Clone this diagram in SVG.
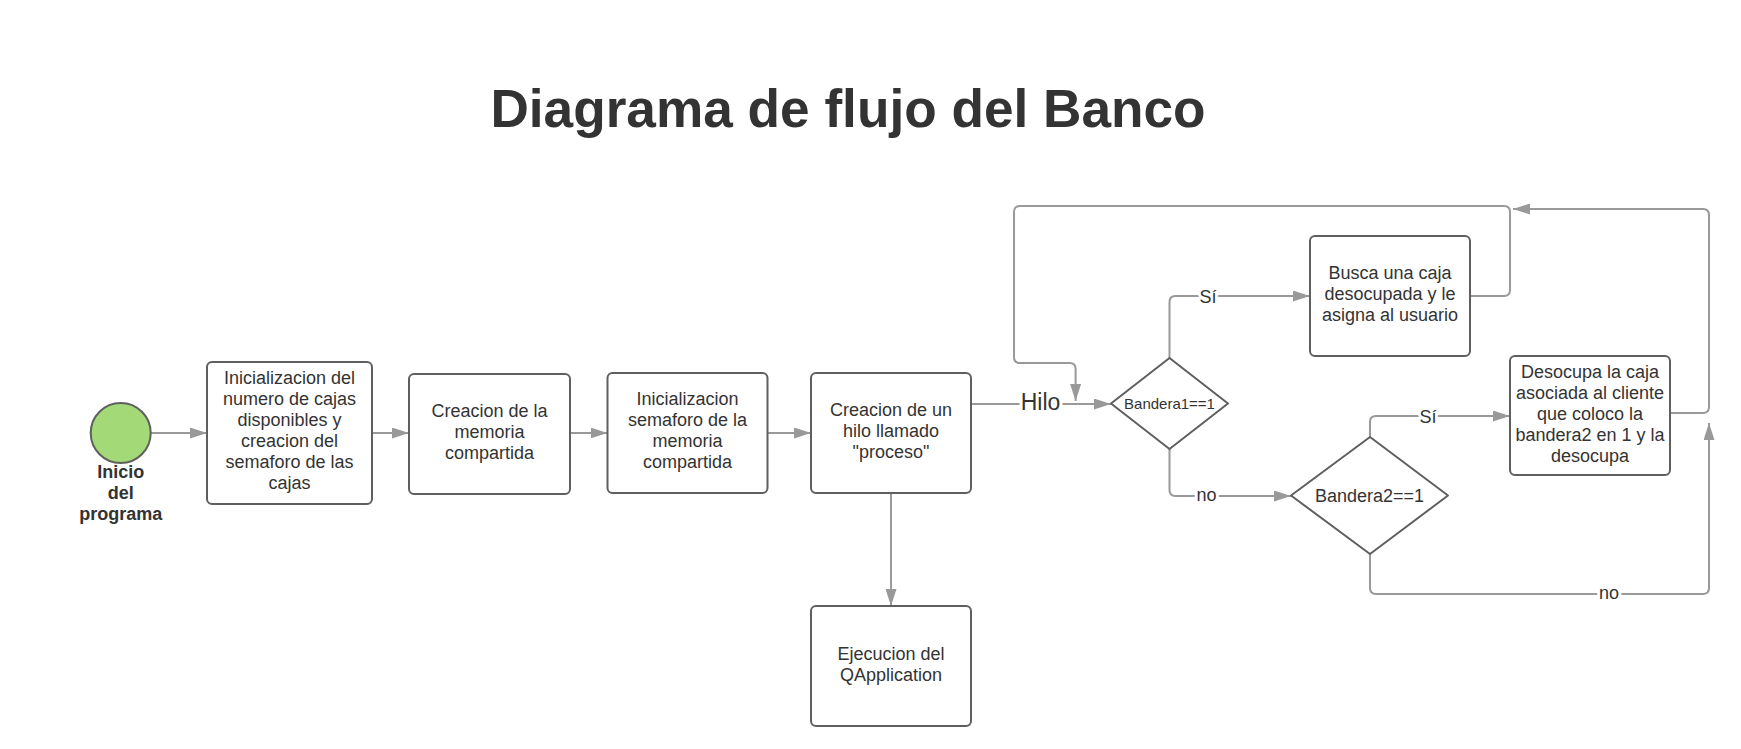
<svg xmlns="http://www.w3.org/2000/svg" width="1741" height="749" viewBox="0 0 1741 749">
<style>
.box{fill:#ffffff;stroke:#5f5f5f;stroke-width:2}
.dia{fill:#ffffff;stroke:#5f5f5f;stroke-width:2;stroke-linejoin:round}
.t{font-family:"Liberation Sans",Arial,sans-serif;font-size:18px;fill:#333333;text-anchor:middle}
.lbl{font-family:"Liberation Sans",Arial,sans-serif;font-size:18px;fill:#333333;text-anchor:middle;stroke:#ffffff;stroke-width:6;paint-order:stroke;stroke-linejoin:round}
.ln{fill:none;stroke:#999999;stroke-width:2;stroke-linejoin:round}
</style>
<defs>
<marker id="ah" markerUnits="userSpaceOnUse" markerWidth="17" markerHeight="11" refX="17" refY="5.5" orient="auto">
<path d="M0,0 L17,5.5 L0,11 z" fill="#999999"/>
</marker>
</defs>
<rect width="1741" height="749" fill="#ffffff"/>
<text x="848" y="127" font-family="'Liberation Sans',Arial,sans-serif" font-size="53.2" font-weight="bold" fill="#333333" text-anchor="middle">Diagrama de flujo del Banco</text>

<g id="connectors">
<path class="ln" d="M150.7,433 H207" marker-end="url(#ah)"/>
<path class="ln" d="M372,433 H409" marker-end="url(#ah)"/>
<path class="ln" d="M570,433 H607.5" marker-end="url(#ah)"/>
<path class="ln" d="M767.5,433 H811" marker-end="url(#ah)"/>
<path class="ln" d="M971,404 H1111" marker-end="url(#ah)"/>
<path class="ln" d="M891,493 V606" marker-end="url(#ah)"/>
<path class="ln" d="M1169.5,358 V302 Q1169.5,296 1175.5,296 H1310" marker-end="url(#ah)"/>
<path class="ln" d="M1169.5,449 V490 Q1169.5,496 1175.5,496 H1291" marker-end="url(#ah)"/>
<path class="ln" d="M1370,437 V422 Q1370,416 1376,416 H1510" marker-end="url(#ah)"/>
<path class="ln" d="M1370,554 V588 Q1370,594 1376,594 H1703 Q1709,594 1709,588 V423" marker-end="url(#ah)"/>
<path class="ln" d="M1470,296 H1504 Q1510,296 1510,290 V212 Q1510,206 1504,206 H1020 Q1014,206 1014,212 V357 Q1014,363 1020,363 H1069.6 Q1075.6,363 1075.6,369 V401" marker-end="url(#ah)"/>
<path class="ln" d="M1670,413 H1703 Q1709,413 1709,407 V215 Q1709,209 1703,209 H1513" marker-end="url(#ah)"/>
<text class="lbl" x="1040.5" y="410" style="font-size:23px">Hilo</text>
<text class="lbl" x="1208" y="302.5">Sí</text>
<text class="lbl" x="1206.5" y="501">no</text>
<text class="lbl" x="1428" y="422.5">Sí</text>
<text class="lbl" x="1609" y="599">no</text>
</g>

<g id="inicio">
<circle cx="120.7" cy="433" r="30" fill="#a3d977" stroke="#5f5f5f" stroke-width="2"/>
<text class="t" x="120.7" font-weight="bold"><tspan x="120.7" y="478">Inicio</tspan><tspan x="120.7" y="499">del</tspan><tspan x="120.7" y="520">programa</tspan></text>
</g>

<g id="n1">
<rect class="box" x="207" y="362" width="165" height="142" rx="5"/>
<text class="t"><tspan x="289.5" y="384">Inicializacion del</tspan><tspan x="289.5" y="405">numero de cajas</tspan><tspan x="289.5" y="426">disponibles y</tspan><tspan x="289.5" y="447">creacion del</tspan><tspan x="289.5" y="468">semaforo de las</tspan><tspan x="289.5" y="489">cajas</tspan></text>
</g>

<g id="n2">
<rect class="box" x="409" y="374" width="161" height="120" rx="5"/>
<text class="t"><tspan x="489.5" y="417">Creacion de la</tspan><tspan x="489.5" y="438">memoria</tspan><tspan x="489.5" y="459">compartida</tspan></text>
</g>

<g id="n3">
<rect class="box" x="607.5" y="373" width="160" height="120" rx="5"/>
<text class="t"><tspan x="687.5" y="405">Inicializacion</tspan><tspan x="687.5" y="426">semaforo de la</tspan><tspan x="687.5" y="447">memoria</tspan><tspan x="687.5" y="468">compartida</tspan></text>
</g>

<g id="n4">
<rect class="box" x="811" y="373" width="160" height="120" rx="5"/>
<text class="t"><tspan x="891" y="415.5">Creacion de un</tspan><tspan x="891" y="436.5">hilo llamado</tspan><tspan x="891" y="457.5">"proceso"</tspan></text>
</g>

<g id="n5">
<rect class="box" x="811" y="606" width="160" height="120" rx="5"/>
<text class="t"><tspan x="891" y="659.5">Ejecucion del</tspan><tspan x="891" y="680.5">QApplication</tspan></text>
</g>

<g id="d1">
<path class="dia" d="M1111,403.5 L1169.5,358 L1228,403.5 L1169.5,449 Z"/>
<text class="t" x="1169.5" y="408.5" style="font-size:15px">Bandera1==1</text>
</g>

<g id="n6">
<rect class="box" x="1310" y="236" width="160" height="120" rx="5"/>
<text class="t"><tspan x="1390" y="278.5">Busca una caja</tspan><tspan x="1390" y="299.5">desocupada y le</tspan><tspan x="1390" y="320.5">asigna al usuario</tspan></text>
</g>

<g id="d2">
<path class="dia" d="M1291,495.5 L1370,437 L1448,495.5 L1370,554 Z"/>
<text class="t" x="1369.5" y="502">Bandera2==1</text>
</g>

<g id="n7">
<rect class="box" x="1510" y="356" width="160" height="119" rx="5"/>
<text class="t"><tspan x="1590" y="378">Desocupa la caja</tspan><tspan x="1590" y="399">asociada al cliente</tspan><tspan x="1590" y="420">que coloco la</tspan><tspan x="1590" y="441">bandera2 en 1 y la</tspan><tspan x="1590" y="462">desocupa</tspan></text>
</g>
</svg>
